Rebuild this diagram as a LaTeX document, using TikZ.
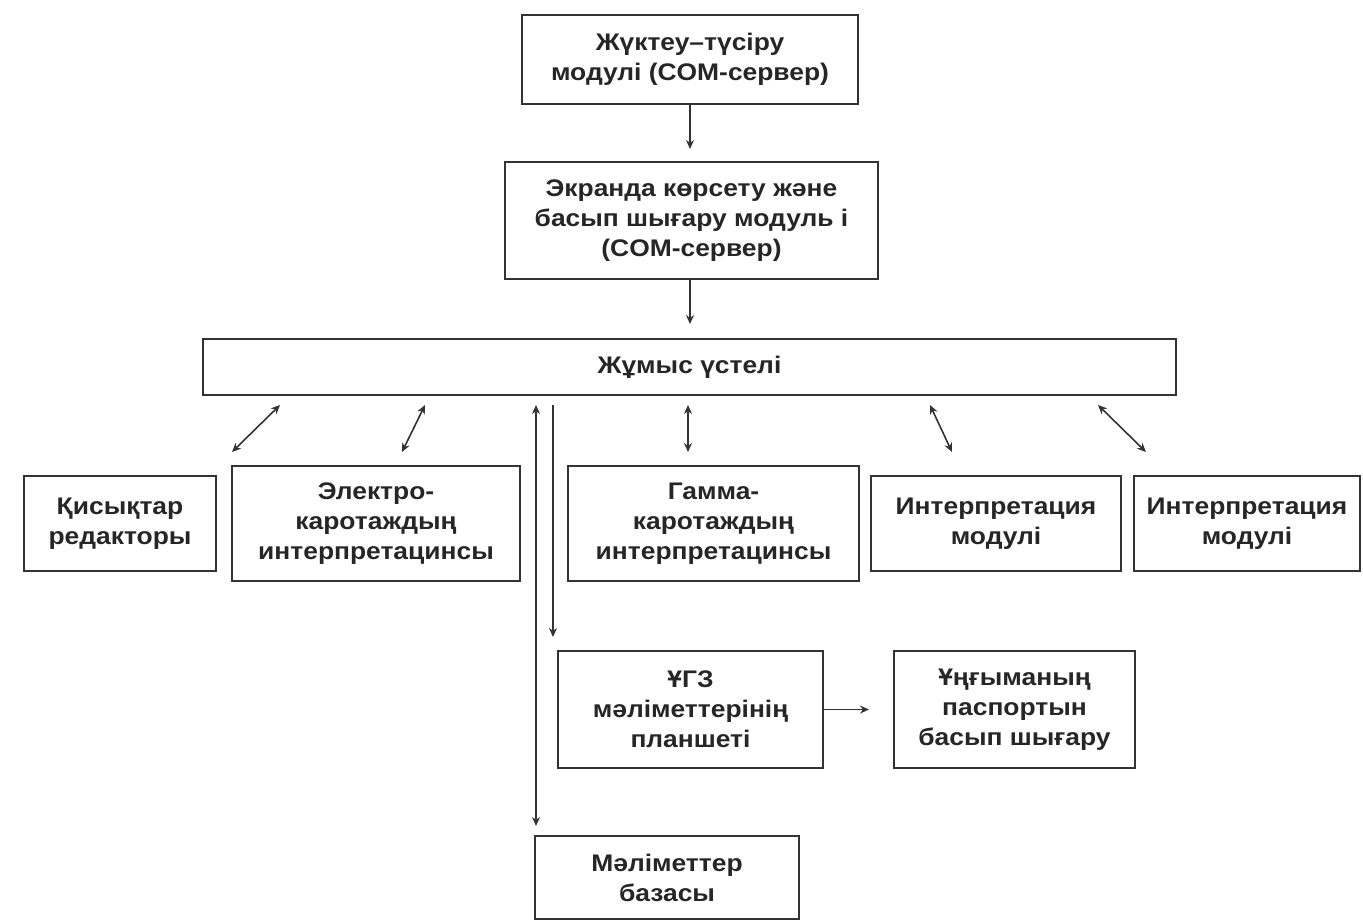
\documentclass[tikz,border=0pt]{standalone}
\usepackage{fontspec}
\setmainfont{Liberation Sans}[FakeStretch=1.1]
\usetikzlibrary{arrows.meta}
\begin{document}
\begin{tikzpicture}[x=1pt,y=-1pt,
  box/.style={draw=black!80, line width=2pt, fill=white, align=center, inner sep=0pt,
    font=\bfseries\fontsize{24}{30}\selectfont, text=black!85},
  tip/.tip={Stealth[length=9pt,width=8pt]},
  conn/.style={line width=1.6pt, draw=black!80, -tip},
  dconn/.style={line width=1.6pt, draw=black!80, tip-tip}]
\useasboundingbox (0,0) rectangle (1363,922);

\node[box, minimum width=336pt, minimum height=89pt] (load) at (690,59.5)
  {Жүктеу–түсіру\\модулі (COM-сервер)};
\node[box, minimum width=373pt, minimum height=117pt] (screen) at (691.5,220.5)
  {Экранда көрсету және\\басып шығару модуль і\\(COM-сервер)};
\node[box, minimum width=973pt, minimum height=56pt] (desk) at (689.5,367)
  {Жұмыс үстелі};

\node[box, minimum width=192pt, minimum height=95pt] (curves) at (120,523.5)
  {Қисықтар\\редакторы};
\node[box, minimum width=288pt, minimum height=115pt] (electro) at (376,523.5)
  {Электро-\\каротаждың\\интерпретацинсы};
\node[box, minimum width=291pt, minimum height=115pt] (gamma) at (713.5,523.5)
  {Гамма-\\каротаждың\\интерпретацинсы};
\node[box, minimum width=250pt, minimum height=95pt] (interp1) at (996,523.5)
  {Интерпретация\\модулі};
\node[box, minimum width=226pt, minimum height=95pt] (interp2) at (1247,523.5)
  {Интерпретация\\модулі};

\node[box, minimum width=265pt, minimum height=117pt] (ugz) at (690.5,709.5)
  {ҰГЗ\\мәліметтерінің\\планшеті};
\node[box, minimum width=241pt, minimum height=117pt] (well) at (1014.5,709.5)
  {Ұңғыманың\\паспортын\\басып шығару};
\node[box, minimum width=264pt, minimum height=83pt] (db) at (667,877.5)
  {Мәліметтер\\базасы};

% free ends
\coordinate (a1s) at (280,405); \coordinate (a1e) at (232,452);
\coordinate (a2s) at (425,405); \coordinate (a2e) at (402,452);
\coordinate (a3s) at (688,405); \coordinate (a3e) at (688,452);
\coordinate (a4s) at (930,405); \coordinate (a4e) at (952,452);
\coordinate (a5s) at (1098,405); \coordinate (a5e) at (1146,452);
\coordinate (v1t) at (536,405); \coordinate (v1b) at (536,826);
\coordinate (v2t) at (553,405); \coordinate (v2b) at (553,637);

\draw[conn, shorten >=12pt] (load.south) -- (load.south |- screen.north);
\draw[conn, shorten >=14pt] (load.south |- screen.south) -- (load.south |- desk.north);
\draw[dconn] (a1s) -- (a1e);
\draw[dconn] (a2s) -- (a2e);
\draw[dconn] (a3s) -- (a3e);
\draw[dconn] (a4s) -- (a4e);
\draw[dconn] (a5s) -- (a5e);
\draw[dconn] (v1t) -- (v1b);
\draw[conn] (v2t) -- (v2b);
\draw[conn, shorten >=24pt] (ugz.east) -- (well.west);
\end{tikzpicture}
\end{document}
